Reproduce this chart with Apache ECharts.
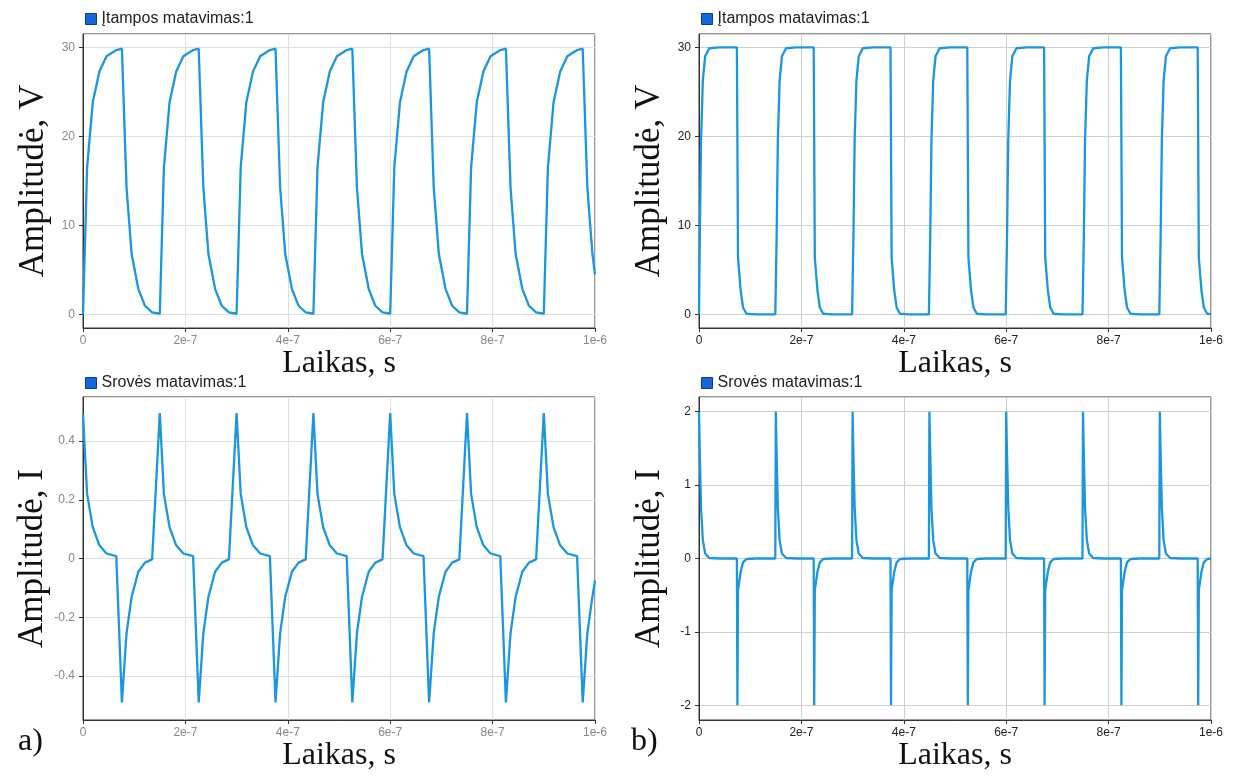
<!DOCTYPE html>
<html>
<head>
<meta charset="utf-8">
<script src="https://cdn.jsdelivr.net/npm/echarts@6/dist/echarts.min.js"></script>
<style>
html,body{margin:0;padding:0;background:#fff;}
#c{width:1242px;height:776px;}
</style>
</head>
<body>
<div id="c"></div>
<script>
// ---- data (time in ns) ----
const xTicks = ['0', '2e-7', '4e-7', '6e-7', '8e-7', '1e-6'];
const nameV = 'Įtampos matavimas:1';
const nameI = 'Srovės matavimas:1';

// panel a (slow RC) - shared sample times
const timeA = [
  0,8,19,32,46,65,76,85,95,108,121,135,
  150,158,169,182,196,215,226,235,245,258,271,285,
  300,308,319,332,346,365,376,385,395,408,421,435,
  450,458,469,482,496,515,526,535,545,558,571,585,
  600,608,619,632,646,665,676,685,695,708,721,735,
  750,758,769,782,796,815,826,835,845,858,871,885,
  900,908,919,932,946,965,976,985,995,1000
];
const voltA = [
  0,16.5,23.8,27.3,29.0,29.7,29.85,14.3,6.8,2.9,1.0,0.26,
  0.1,16.5,23.8,27.3,29.0,29.7,29.85,14.3,6.8,2.9,1.0,0.26,
  0.1,16.5,23.8,27.3,29.0,29.7,29.85,14.3,6.8,2.9,1.0,0.26,
  0.1,16.5,23.8,27.3,29.0,29.7,29.85,14.3,6.8,2.9,1.0,0.26,
  0.1,16.5,23.8,27.3,29.0,29.7,29.85,14.3,6.8,2.9,1.0,0.26,
  0.1,16.5,23.8,27.3,29.0,29.7,29.85,14.3,6.8,2.9,1.0,0.26,
  0.1,16.5,23.8,27.3,29.0,29.7,29.85,14.3,6.8,4.5
];
const currA = [
  0.49,0.22,0.107,0.045,0.017,0.008,-0.49,-0.255,-0.13,-0.045,-0.014,-0.003,
  0.495,0.22,0.107,0.045,0.017,0.008,-0.49,-0.255,-0.13,-0.045,-0.014,-0.003,
  0.495,0.22,0.107,0.045,0.017,0.008,-0.49,-0.255,-0.13,-0.045,-0.014,-0.003,
  0.495,0.22,0.107,0.045,0.017,0.008,-0.49,-0.255,-0.13,-0.045,-0.014,-0.003,
  0.495,0.22,0.107,0.045,0.017,0.008,-0.49,-0.255,-0.13,-0.045,-0.014,-0.003,
  0.495,0.22,0.107,0.045,0.017,0.008,-0.49,-0.255,-0.13,-0.045,-0.014,-0.003,
  0.495,0.22,0.107,0.045,0.017,0.008,-0.49,-0.255,-0.13,-0.075
];

// panel b (fast RC) - shared sample times
const timeB = [
  0,1.5,4,7.5,12,20,40,74,75,76.2,81.4,86,92.6,110,149,
  150,151.5,154,157.5,162,170,190,224,225,226.2,231.4,236,242.6,260,299,
  300,301.5,304,307.5,312,320,340,374,375,376.2,381.4,386,392.6,410,449,
  450,451.5,454,457.5,462,470,490,524,525,526.2,531.4,536,542.6,560,599,
  600,601.5,604,607.5,612,620,640,674,675,676.2,681.4,686,692.6,710,749,
  750,751.5,754,757.5,762,770,790,824,825,826.2,831.4,836,842.6,860,899,
  900,901.5,904,907.5,912,920,940,974,975,976.2,981.4,986,992.6,1000
];
const voltB = [
  0,8.3,19.6,26.3,29,29.9,30,30,30,6.4,2.7,0.8,0.1,0.02,0.02,
  0.02,8.3,19.6,26.3,29,29.9,30,30,30,6.4,2.7,0.8,0.1,0.02,0.02,
  0.02,8.3,19.6,26.3,29,29.9,30,30,30,6.4,2.7,0.8,0.1,0.02,0.02,
  0.02,8.3,19.6,26.3,29,29.9,30,30,30,6.4,2.7,0.8,0.1,0.02,0.02,
  0.02,8.3,19.6,26.3,29,29.9,30,30,30,6.4,2.7,0.8,0.1,0.02,0.02,
  0.02,8.3,19.6,26.3,29,29.9,30,30,30,6.4,2.7,0.8,0.1,0.02,0.02,
  0.02,8.3,19.6,26.3,29,29.9,30,30,30,6.4,2.7,0.8,0.1,0.05
];
const currB = [
  2,1.45,0.69,0.25,0.067,0.007,0,0,-2,-0.43,-0.18,-0.053,-0.007,0,0,
  2,1.45,0.69,0.25,0.067,0.007,0,0,-2,-0.43,-0.18,-0.053,-0.007,0,0,
  2,1.45,0.69,0.25,0.067,0.007,0,0,-2,-0.43,-0.18,-0.053,-0.007,0,0,
  2,1.45,0.69,0.25,0.067,0.007,0,0,-2,-0.43,-0.18,-0.053,-0.007,0,0,
  2,1.45,0.69,0.25,0.067,0.007,0,0,-2,-0.43,-0.18,-0.053,-0.007,0,0,
  2,1.45,0.69,0.25,0.067,0.007,0,0,-2,-0.43,-0.18,-0.053,-0.007,0,0,
  2,1.45,0.69,0.25,0.067,0.007,0,0,-2,-0.43,-0.18,-0.053,-0.007,0
];

// ---- chart ----
const SANS = '"Liberation Sans", Arial, Helvetica, sans-serif';
const SERIF = '"Liberation Serif", "Times New Roman", serif';
const LINE = '#1c96de';

function pairs(t, v) { return t.map((x, i) => [x, v[i]]); }
function xFmt(v) {
  const idx = Math.round(v / 200);
  return xTicks[idx] !== undefined ? xTicks[idx] : '';
}

const grids = [
  {left: 83, top: 34, width: 512, height: 294},
  {left: 83, top: 397, width: 512, height: 323},
  {left: 699, top: 34, width: 512, height: 294},
  {left: 699, top: 397, width: 512, height: 323}
];
const labelColors = ['#888', '#888', '#222', '#222'];
const splitColors = ['#dedede', '#dedede', '#cfcfcf', '#cfcfcf'];
const yNames = ['Amplitudė, V', 'Amplitudė, I', 'Amplitudė, V', 'Amplitudė, I'];
const yRanges = [[-1.5, 31.5, 3], [-0.55, 0.55, 5], [-1.5, 31.5, 3], [-2.2, 2.2, 5]];
const xNameGaps = [12, 19, 12, 19];

const option = {
  animation: false,
  backgroundColor: '#fff',
  grid: grids.map(g => Object.assign({show: true, borderColor: '#333', borderWidth: 1, backgroundColor: 'transparent'}, g)),
  legend: [
    {left: 85, top: 11, name: nameV},
    {left: 85, top: 375, name: nameI},
    {left: 701, top: 11, name: nameV},
    {left: 701, top: 375, name: nameI}
  ].map(l => ({
    left: l.left, top: l.top, padding: 0, itemWidth: 11, itemHeight: 11,
    selectedMode: false,
    data: [{name: l.name, icon: 'rect', itemStyle: {color: '#1566d6', borderColor: '#0b3c9c', borderWidth: 1}}],
    textStyle: {fontFamily: SANS, fontSize: 16, color: '#222'}
  })),
  xAxis: grids.map((g, i) => ({
    type: 'value', gridIndex: i, min: 0, max: 1000, interval: 200,
    name: 'Laikas, s', nameLocation: 'middle', nameGap: xNameGaps[i],
    nameTextStyle: {fontFamily: SERIF, fontSize: 32, color: '#111'},
    axisLine: {show: true, onZero: false, lineStyle: {color: '#333', width: 1}},
    axisTick: {show: true, length: 4, lineStyle: {color: '#333'}},
    axisLabel: {fontFamily: SANS, fontSize: 12, color: labelColors[i], margin: 7, formatter: xFmt},
    splitLine: {show: true, lineStyle: {color: splitColors[i], width: 1}}
  })),
  yAxis: grids.map((g, i) => ({
    type: 'value', gridIndex: i, min: yRanges[i][0], max: yRanges[i][1], splitNumber: yRanges[i][2],
    name: yNames[i], nameLocation: 'middle', nameGap: 32,
    nameTextStyle: {fontFamily: SERIF, fontSize: 35, color: '#111'},
    axisLine: {show: true, onZero: false, lineStyle: {color: '#333', width: 1}},
    axisTick: {show: true, length: 4, lineStyle: {color: '#333'}},
    axisLabel: {fontFamily: SANS, fontSize: 12, color: labelColors[i], margin: 8, showMinLabel: false, showMaxLabel: false},
    splitLine: {show: true, lineStyle: {color: splitColors[i], width: 1}}
  })),
  series: [
    {name: nameV, data: pairs(timeA, voltA)},
    {name: nameI, data: pairs(timeA, currA)},
    {name: nameV, data: pairs(timeB, voltB)},
    {name: nameI, data: pairs(timeB, currB)}
  ].map((s, i) => ({
    type: 'line', name: s.name, xAxisIndex: i, yAxisIndex: i, data: s.data,
    showSymbol: false, symbol: 'none', smooth: false,
    itemStyle: {color: '#1566d6'},
    lineStyle: {color: LINE, width: 2.3}
  })),
  graphic: [
    {type: 'text', left: 18, top: 726, style: {text: 'a)', font: '32px ' + SERIF, fill: '#111'}},
    {type: 'text', left: 631, top: 726, style: {text: 'b)', font: '32px ' + SERIF, fill: '#111'}}
  ]
};

const chart = echarts.init(document.getElementById('c'), null, {renderer: 'canvas'});
chart.setOption(option);
</script>
</body>
</html>
